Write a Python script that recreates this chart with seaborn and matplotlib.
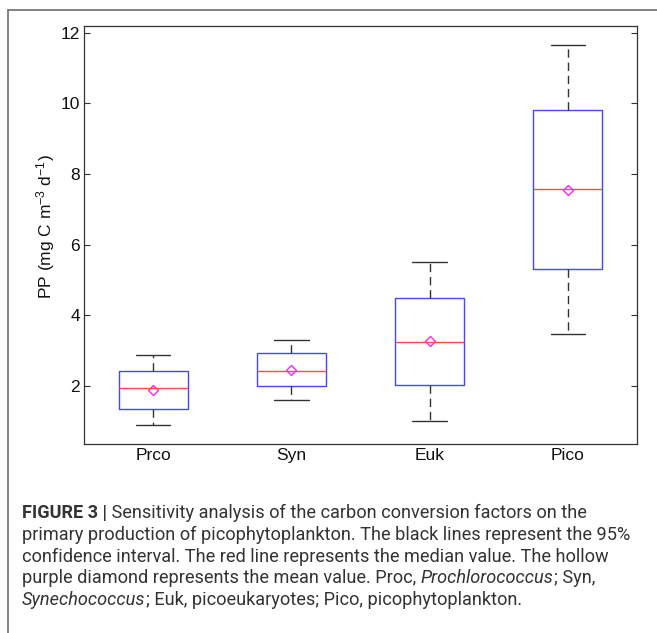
import pandas as pd
import matplotlib
matplotlib.use("Agg")
import matplotlib.pyplot as plt
from matplotlib.lines import Line2D
import seaborn as sns

# box statistics
categories = ["Prco", "Syn", "Euk", "Pico"]
whisker_low = [0.88, 1.61, 1.01, 3.47]
q1 = [1.33, 1.99, 2.02, 5.31]
median = [1.95, 2.41, 3.25, 7.57]
q3 = [2.42, 2.92, 4.49, 9.81]
whisker_high = [2.88, 3.29, 5.50, 11.65]
mean = [1.88, 2.44, 3.27, 7.55]
yticks = [2, 4, 6, 8, 10, 12]

sns.set_theme(style="white")
plt.rcParams["font.family"] = ["Liberation Sans", "DejaVu Sans"]
plt.rcParams["mathtext.fontset"] = "custom"
plt.rcParams["mathtext.rm"] = "Liberation Sans"
plt.rcParams["mathtext.it"] = "Liberation Sans:italic"
plt.rcParams["lines.scale_dashes"] = False

# five points per group -> quartiles land exactly on the summary values
rows = []
for i, cat in enumerate(categories):
    for v in (whisker_low[i], q1[i], median[i], q3[i], whisker_high[i]):
        rows.append({"group": cat, "PP": v})
df = pd.DataFrame(rows)

fig = plt.figure(figsize=(6.57, 6.33), dpi=100)
ax = fig.add_axes([84 / 657, 1 - 444 / 633, 553 / 657, 418 / 633])

sns.boxplot(data=df, x="group", y="PP", order=categories, whis=(0, 100),
            width=0.5, fill=False, showfliers=False, ax=ax,
            boxprops=dict(color="#4646ff", linewidth=1.0),
            medianprops=dict(color="#ff4a4a", linewidth=1.0),
            whiskerprops=dict(color="#333333", linewidth=1.0, linestyle=(0, (6, 3.5))),
            capprops=dict(color="#333333", linewidth=1.0))

ax.plot(categories, mean, linestyle="none", marker="D", markersize=5.2,
        markerfacecolor="none", markeredgecolor="#ff22ff", markeredgewidth=1.0)

ax.set_xlim(-0.5, 3.5)
ax.set_ylim(0.35, 12.19)
ax.set_yticks(yticks)
ax.set_yticklabels([str(t) for t in yticks])
ax.set_xlabel("")
ax.set_ylabel("PP (mg C m$^{-3}$ d$^{-1}$)", fontsize=12.5, color="#111111")
ax.yaxis.set_label_coords(-0.048, 0.52)

for sp in ax.spines.values():
    sp.set_visible(True)
    sp.set_color("#333333")
    sp.set_linewidth(0.9)
ax.tick_params(axis="y", which="both", direction="in", length=4, width=0.8,
               color="#333333", left=True, right=True, labelsize=12.5, pad=3,
               labelcolor="#111111")
ax.tick_params(axis="x", bottom=False, labelsize=12.5, pad=-3, labelcolor="#111111")

# outer frame (top and left edges only)
fig.add_artist(Line2D([8 / 657, 8 / 657], [0, 1 - 10 / 633], color="#7a7a7a",
                      linewidth=1.3, transform=fig.transFigure))
fig.add_artist(Line2D([8 / 657, 1], [1 - 10 / 633, 1 - 10 / 633], color="#7a7a7a",
                      linewidth=1.3, transform=fig.transFigure))

# caption, pieces chained left to right on each line
cap_font = ["Roboto", "DejaVu Sans"]
cap_size = 13.05
cap_color = "#333333"
lines = [
    [("FIGURE 3 |", "bold", "normal"),
     (" Sensitivity analysis of the carbon conversion factors on the", "normal", "normal")],
    [("primary production of picophytoplankton. The black lines represent the 95%", "normal", "normal")],
    [("confidence interval. The red line represents the median value. The hollow", "normal", "normal")],
    [("purple diamond represents the mean value. Proc, ", "normal", "normal"),
     ("Prochlorococcus", "normal", "italic"),
     ("; Syn,", "normal", "normal")],
    [("Synechococcus", "normal", "italic"),
     ("; Euk, picoeukaryotes; Pico, picophytoplankton.", "normal", "normal")],
]
baselines = [518, 540, 561.5, 583, 605]
for parts, yb in zip(lines, baselines):
    last = None
    for txt, weight, style in parts:
        if last is None:
            last = fig.text(22 / 657, 1 - yb / 633, txt, fontsize=cap_size,
                            fontweight=weight, fontstyle=style, family=cap_font,
                            color=cap_color, va="baseline", ha="left")
        else:
            last = ax.annotate(txt, xy=(1, 0), xycoords=last, va="bottom", ha="left",
                               fontsize=cap_size, fontweight=weight, fontstyle=style,
                               family=cap_font, color=cap_color,
                               annotation_clip=False)

fig.savefig("out.png", dpi=100)
